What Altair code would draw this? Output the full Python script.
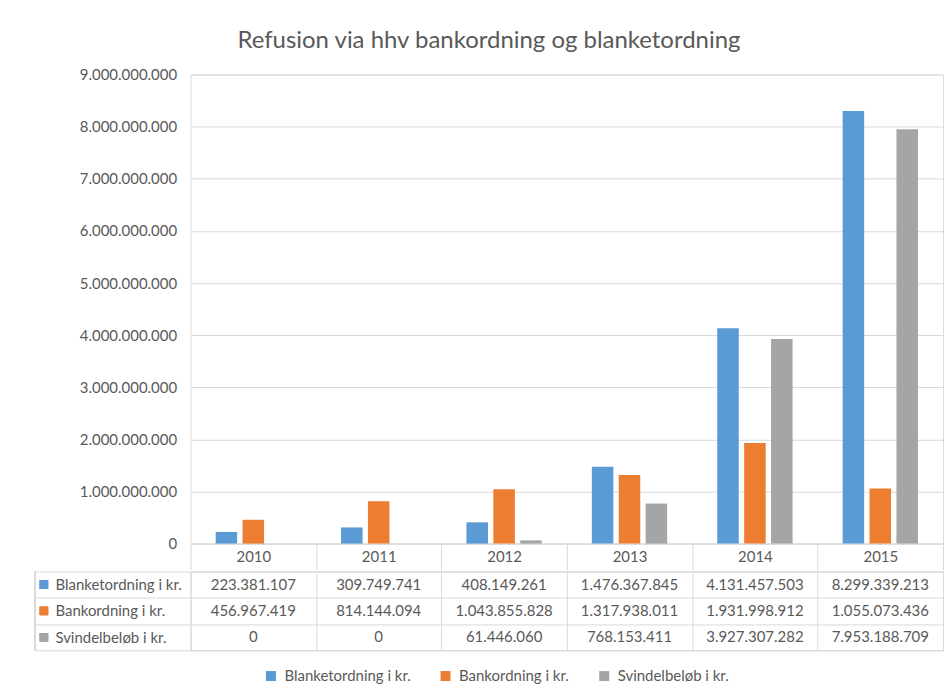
import altair as alt
import pandas as pd

years = ["2010", "2011", "2012", "2013", "2014", "2015"]
series = ["Blanketordning i kr.", "Bankordning i kr.", "Svindelbeløb i kr."]
blanket = [223381107, 309749741, 408149261, 1476367845, 4131457503, 8299339213]
bank = [456967419, 814144094, 1043855828, 1317938011, 1931998912, 1055073436]
svindel = [0, 0, 61446060, 768153411, 3927307282, 7953188709]
colors = ["#5B9BD5", "#ED7D31", "#A5A5A5"]
y_ticks = [0, 1e9, 2e9, 3e9, 4e9, 5e9, 6e9, 7e9, 8e9, 9e9]
title_text = "Refusion via hhv bankordning og blanketordning"

rows = []
for s, vals in zip(series, [blanket, bank, svindel]):
    for yr, v in zip(years, vals):
        rows.append({"year": yr, "series": s, "value": v})
df = pd.DataFrame(rows)

FONT = "Lato"
FS = 15
GRID = "#d9d9d9"
TXT = "#595959"
W = 754

x_scale = alt.Scale(domain=years, paddingInner=0, paddingOuter=0)
color_scale = alt.Scale(domain=series, range=colors)

bars = alt.Chart(df).mark_bar().encode(
    x=alt.X("year:N", scale=x_scale, sort=years, title=None,
            axis=alt.Axis(labelAngle=0, tickBand="extent", tickSize=26, tickColor=GRID,
                          domainColor=GRID, labelPadding=-13, labelBaseline="middle",
                          labelFont=FONT, labelFontSize=FS, labelColor=TXT, grid=False)),
    xOffset=alt.XOffset("series:N", sort=series,
                        scale=alt.Scale(paddingInner=0.2, paddingOuter=0.93)),
    y=alt.Y("value:Q", scale=alt.Scale(domain=[0, 9e9]), title=None,
            axis=alt.Axis(values=y_ticks, format=",d", grid=True, gridColor=GRID,
                          domain=False, ticks=False, labelPadding=14, labelFont=FONT,
                          labelFontSize=FS, labelColor=TXT)),
    color=alt.Color("series:N", scale=color_scale, sort=series,
                    legend=alt.Legend(orient="none", legendX=73, legendY=595,
                                      direction="horizontal", title=None,
                                      symbolType="square", symbolSize=100, symbolStrokeWidth=0,
                                      labelFont=FONT, labelFontSize=FS, labelColor=TXT,
                                      labelOffset=6, columnPadding=27)),
).properties(width=W, height=470)

table_base = alt.Chart(df).encode(
    x=alt.X("year:N", scale=x_scale, sort=years, title=None,
            axis=alt.Axis(orient="bottom", labels=False, ticks=False, domain=False, grid=True,
                          tickBand="extent", gridColor=GRID)),
    y=alt.Y("series:N", sort=series, title=None,
            scale=alt.Scale(domain=series, paddingInner=0, paddingOuter=0),
            axis=alt.Axis(grid=True, tickBand="extent", gridColor=GRID, ticks=True, tickSize=156,
                          tickColor=GRID, domain=False, labelAlign="left", labelPadding=-20,
                          labelFont=FONT, labelFontSize=FS, labelColor=TXT)),
)
text = table_base.mark_text(font=FONT, fontSize=FS, color=TXT).encode(
    text=alt.Text("value:Q", format=",d"))
squares = table_base.mark_point(shape="square", filled=True, size=70, opacity=1).encode(
    x=alt.value(-147),
    color=alt.Color("series:N", scale=color_scale, sort=series, legend=None))
left_rule = alt.Chart(df).mark_rule(color=GRID).encode(
    x=alt.value(-156), y=alt.value(0), y2=alt.value(79))
table = alt.layer(text, squares, left_rule).properties(
    width=W, height=79, view=alt.ViewBackground(stroke=GRID))

chart = alt.vconcat(bars, table, spacing=-7).properties(
    title=alt.TitleParams(title_text, font=FONT, fontSize=24, fontWeight="normal",
                          color=TXT, anchor="middle", offset=14),
    padding={"left": 26, "top": 20, "right": 0, "bottom": 2},
    background="white",
).configure_view(stroke=None).configure(
    locale={"number": {"decimal": ",", "thousands": ".", "grouping": [3],
                       "currency": ["", " kr."]}}
)

chart.save("out.html", embed_options={"renderer": "svg", "actions": False})
